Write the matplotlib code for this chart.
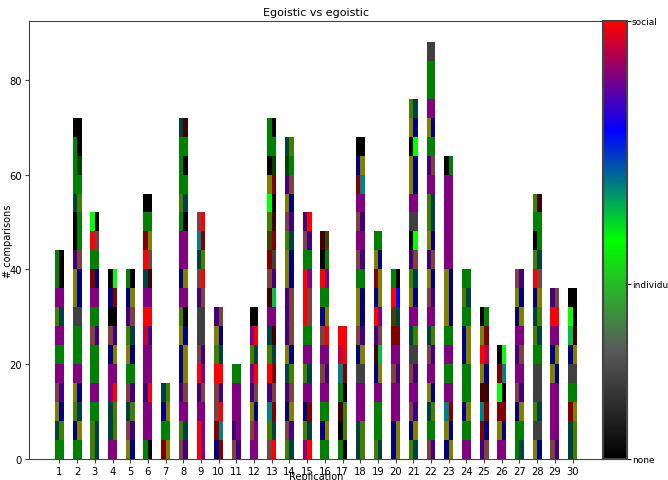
import numpy as np
import matplotlib
matplotlib.use('Agg')
import matplotlib.pyplot as plt
from matplotlib.colors import LinearSegmentedColormap, Normalize
from matplotlib.cm import ScalarMappable

''' --->> Data <<--- '''
replication = list(range(1, 31))
comparisons = [44, 72, 52, 40, 40, 56, 16, 72, 52, 32, 20, 32, 72, 68, 52,
               48, 28, 68, 48, 40, 76, 88, 64, 40, 32, 24, 40, 56, 36, 36]

# colour of each block of 4 comparisons, bottom to top
# one letter = whole block, two letters = left half | right half
blocks = [
    "G TV ON BI P G P VT P GK GK",
    "G NO VT ON P G G D ON ON IB KG KG TV G GE GK K",
    "VT VT G P G G BI G P MN G RB LK",
    "P TV TV PR P NO BI K NM KL",
    "ON BI TV BI G ON VT IB NO GK",
    "GK P P IR P P SI R P TW RB MO G K",
    "MO G NO TV",
    "BI VT P IB NO NO ON VK P NO P P GK VT G GK G TW",
    "RP RP P IB RP BI D D IB BR TV CM BR",
    "NM MC BR BI R VT ON IB",
    "BI IP P P G",
    "P BP ON IB PR VT PR K",
    "BR VT CM IB RM VT TW P WQ BI MD YM VW LK OM KE G GK",
    "VT BI NO IB TV ON IB IB IB ON ON VT BI ON IB EG TV",
    "PR VT NM P VT P G RB RB RP G BI IR",
    "G NO G P BI P BR NO G RP KG WY",
    "GK KV WV GK CM SR R",
    "TV TV P P D NO BI ON ON G BI P BI P MC NO K",
    "VT G G P NO WQ IB RP NO MO ON G",
    "NO NO P P BI P M YT RU GK",
    "VT NO BI P BI D TV P ON VT IB KL D P ON ON KL ON VT",
    "BI G TV ON P BI TV P BI ON IB ON VT VT P IB G ON P G G D",
    "NO ON CM P G P G ON ON ON P P P P P KG",
    "P G NO G G NO NO G VT G",
    "IB MN CM W ON RS OM KG",
    "P ON M LK MC KL",
    "GT G NO BI P IB P NO ON BI",
    "ON D VT D D G VT TV NO RB VT KG G VW",
    "BI P P P ON NO P R IB",
    "TV TV MO G D NO QW LK K",
]

palette = {
    'K': '#000000', 'G': '#008000', 'P': '#800080', 'O': '#808000',
    'N': '#000080', 'T': '#004040', 'V': '#408000', 'B': '#804040',
    'I': '#400080', 'M': '#800000', 'R': '#ff0000', 'L': '#00ff00',
    'D': '#404040', 'E': '#004000', 'W': '#400000', 'C': '#008080',
    'U': '#0000ff', 'S': '#c00040', 'Q': '#00c040', 'Y': '#404000',
}

cbar_ticks = [0, 0.4, 1]
cbar_labels = ['none', 'individual', 'social']

''' --->> Plot <<--- '''
fig = plt.figure(figsize=(6.68, 4.81), dpi=100)
ax = fig.add_axes([0.0434, 0.0437, 0.8593, 0.9106])
cax = fig.add_axes([0.9027, 0.0437, 0.036, 0.9106])

step = 4
half = 0.25
for x, total, codes in zip(replication, comparisons, blocks):
    codes = codes.split()
    assert len(codes) * step == total
    for k, c in enumerate(codes):
        left, right = (c[0], c[1]) if len(c) == 2 else (c, c)
        ax.bar(x - half / 2, step, bottom=k * step, width=half,
               color=palette[left], linewidth=0)
        ax.bar(x + half / 2, step, bottom=k * step, width=half,
               color=palette[right], linewidth=0)

ax.set_xlim(-0.72, 31.72)
ax.set_ylim(0, 92.4)
ax.set_xticks(replication)
ax.set_yticks([0, 20, 40, 60, 80])
ax.tick_params(labelsize=7.2, length=3, color='#444444', pad=2)
ax.set_title('Egoistic vs egoistic', fontsize=8, pad=4)
ax.set_xlabel('Replication', fontsize=7)
ax.set_ylabel('# comparisons', fontsize=7)
ax.xaxis.set_label_coords(0.5, -0.028)
ax.yaxis.set_label_coords(-0.027, 0.5)
for s in ax.spines.values():
    s.set_color('#444444')

cmap = LinearSegmentedColormap.from_list(
    'pref', [(0, '#000000'), (0.25, '#5a5a5a'), (0.5, '#00ff00'),
             (0.75, '#0000ff'), (1, '#ff0000')])
cb = fig.colorbar(ScalarMappable(norm=Normalize(0, 1), cmap=cmap), cax=cax,
                  ticks=cbar_ticks)
cb.set_ticklabels(cbar_labels)
cb.ax.tick_params(labelsize=6.5, length=3, pad=0.5)
cb.outline.set_edgecolor('#444444')
cb.outline.set_linewidth(1.5)

fig.savefig('out.png', dpi=100)
